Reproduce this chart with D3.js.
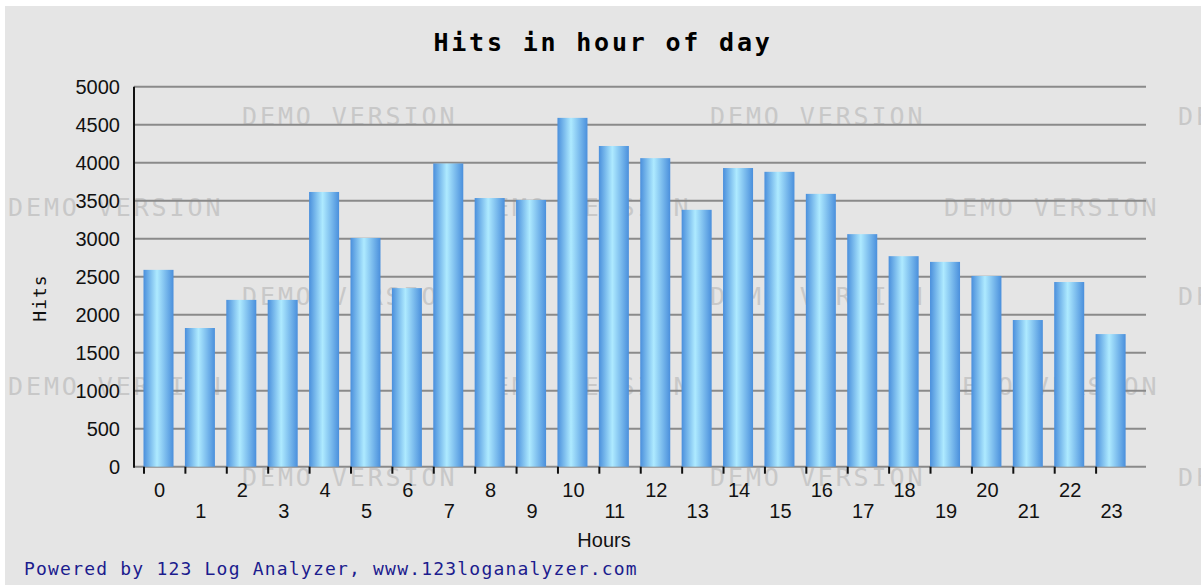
<!DOCTYPE html>
<html>
<head>
<meta charset="utf-8">
<script src="https://cdn.jsdelivr.net/npm/d3@7"></script>
<style>
  body { margin: 0; background: #fff; }
  svg { display: block; }
</style>
</head>
<body>
<div id="chart"></div>
<script>
// data
const hours = d3.range(0, 24).map(String);
const hits = [2590, 1825, 2195, 2195, 3615, 3010, 2350, 3990, 3535, 3510, 4590, 4220,
              4060, 3380, 3930, 3880, 3590, 3060, 2770, 2695, 2510, 1930, 2430, 1745];
const yTicks = [0, 500, 1000, 1500, 2000, 2500, 3000, 3500, 4000, 4500, 5000];
const titleText = "Hits in hour of day";
const xLabel = "Hours";
const yLabel = "Hits";
const footer = "Powered by 123 Log Analyzer, www.123loganalyzer.com";
const watermark = "DEMO VERSION";

const svgWidth = 1201;
const svgHeight = 585;

const plot = { left: 134, right: 1146, top: 86.7, bottom: 466.7 };

const svg = d3.select("#chart")
  .append("svg")
  .attr("width", svgWidth)
  .attr("height", svgHeight);

// grey panel (white strip on left and top)
svg.append("rect")
  .attr("x", 5).attr("y", 6)
  .attr("width", svgWidth - 5).attr("height", svgHeight - 6)
  .attr("fill", "#e5e5e5");

// bar gradient
const grad = svg.append("defs").append("linearGradient")
  .attr("id", "barGrad")
  .attr("x1", "0%").attr("x2", "100%").attr("y1", "0%").attr("y2", "0%");
grad.append("stop").attr("offset", "0%").attr("stop-color", "#4a8fdc");
grad.append("stop").attr("offset", "45%").attr("stop-color", "#aeeaff");
grad.append("stop").attr("offset", "100%").attr("stop-color", "#4a8fdc");

// watermark, behind everything else
const wmRows = [116, 207, 296, 386, 477];
wmRows.forEach((wy, r) => {
  const startX = r % 2 === 0 ? 242 : 8;
  for (let wx = startX; wx < svgWidth; wx += 468) {
    svg.append("text")
      .attr("x", wx)
      .attr("y", wy + 9)
      .attr("font-family", "DejaVu Sans Mono")
      .attr("font-size", "25px")
      .attr("letter-spacing", "2.9px")
      .attr("fill", "#c8c8c8")
      .text(watermark);
  }
});

const xScale = d3.scaleBand()
  .domain(hours)
  .range([143.5, 1137]);

const yScale = d3.scaleLinear()
  .domain([0, 5000])
  .range([plot.bottom, plot.top]);

const barWidth = xScale.bandwidth() * 0.725;

// gridlines
svg.append("g")
  .selectAll("line")
  .data(yTicks)
  .enter()
  .append("line")
  .attr("x1", plot.left)
  .attr("x2", plot.right)
  .attr("y1", d => yScale(d))
  .attr("y2", d => yScale(d))
  .attr("stroke", "#8a8a8a")
  .attr("stroke-width", 2);

// y tick labels
svg.append("g")
  .selectAll("text")
  .data(yTicks)
  .enter()
  .append("text")
  .attr("x", 120)
  .attr("y", d => yScale(d) + 7)
  .attr("text-anchor", "end")
  .attr("font-family", "Liberation Sans")
  .attr("font-size", "20px")
  .attr("fill", "#111")
  .text(d => d);

// bars
svg.append("g")
  .selectAll("rect")
  .data(hits)
  .enter()
  .append("rect")
  .attr("x", (d, i) => xScale(hours[i]))
  .attr("y", d => yScale(d))
  .attr("width", barWidth)
  .attr("height", d => plot.bottom - yScale(d))
  .attr("fill", "url(#barGrad)");

// y axis line
svg.append("line")
  .attr("x1", plot.left).attr("x2", plot.left)
  .attr("y1", plot.top).attr("y2", plot.bottom + 1)
  .attr("stroke", "#111")
  .attr("stroke-width", 2);

// x ticks
svg.append("g")
  .selectAll("line")
  .data(hours)
  .enter()
  .append("line")
  .attr("x1", d => xScale(d) + 0.5)
  .attr("x2", d => xScale(d) + 0.5)
  .attr("y1", plot.bottom)
  .attr("y2", plot.bottom + 7)
  .attr("stroke", "#111")
  .attr("stroke-width", 2);

// x tick labels, staggered
svg.append("g")
  .selectAll("text")
  .data(hours)
  .enter()
  .append("text")
  .attr("x", d => xScale(d) + barWidth / 2 + 1)
  .attr("y", (d, i) => i % 2 === 0 ? 497 : 518)
  .attr("text-anchor", "middle")
  .attr("font-family", "Liberation Sans")
  .attr("font-size", "20px")
  .attr("fill", "#111")
  .text(d => d);

// title
svg.append("text")
  .attr("x", 603)
  .attr("y", 51)
  .attr("text-anchor", "middle")
  .attr("font-family", "DejaVu Sans Mono")
  .attr("font-weight", "bold")
  .attr("font-size", "25px")
  .attr("letter-spacing", "2.8px")
  .attr("fill", "#000")
  .text(titleText);

// axis titles
svg.append("text")
  .attr("transform", "translate(46, 298) rotate(-90)")
  .attr("text-anchor", "middle")
  .attr("font-family", "DejaVu Sans Mono")
  .attr("font-size", "18px")
  .attr("letter-spacing", "1px")
  .attr("fill", "#111")
  .text(yLabel);

svg.append("text")
  .attr("x", 604)
  .attr("y", 547)
  .attr("text-anchor", "middle")
  .attr("font-family", "Liberation Sans")
  .attr("font-size", "20px")
  .attr("fill", "#111")
  .text(xLabel);

// footer
svg.append("text")
  .attr("x", 24)
  .attr("y", 575)
  .attr("font-family", "DejaVu Sans Mono")
  .attr("font-size", "18px")
  .attr("letter-spacing", "1.2px")
  .attr("fill", "#1c1c8e")
  .text(footer);
</script>
</body>
</html>
